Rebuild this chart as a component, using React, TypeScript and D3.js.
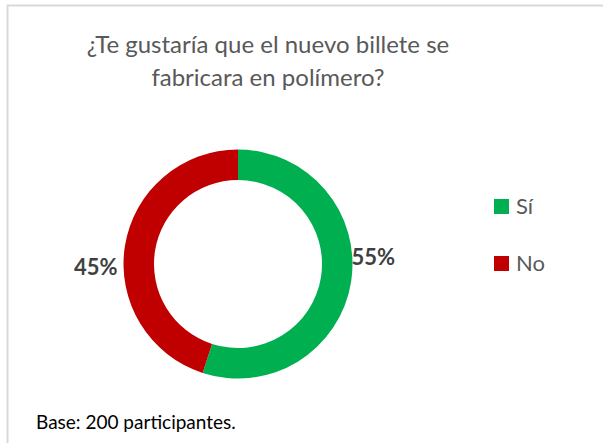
import React, { useEffect, useRef } from "react";
import * as d3 from "d3";

const categories = ["Sí", "No"];
const values = [55, 45];
const colors = ["#00B050", "#C00000"];
const titleLines = ["¿Te gustaría que el nuevo billete se", "fabricara en polímero?"];
const footer = "Base: 200 participantes.";

const W = 603;
const H = 443;

export default function App() {
  const ref = useRef<SVGSVGElement | null>(null);

  useEffect(() => {
    const svg = d3.select(ref.current);
    svg.selectAll("*").remove();

    svg.append("rect").attr("width", W).attr("height", H).attr("fill", "#fff");
    // frame
    svg.append("path")
      .attr("d", `M7.5,${H} L7.5,5.5 L${W},5.5`)
      .attr("fill", "none")
      .attr("stroke", "#D9D9D9")
      .attr("stroke-width", 2);

    const font = "Lato, 'Open Sans', sans-serif";

    // title
    svg.append("g").selectAll("text").data(titleLines).join("text")
      .attr("x", 268)
      .attr("y", (_, i) => 53 + i * 33)
      .attr("text-anchor", "middle")
      .attr("font-family", font)
      .attr("font-size", 24)
      .attr("fill", "#595959")
      .text(d => d);

    const cx = 238, cy = 264, outerR = 114.5, innerR = 84;
    const pie = d3.pie<number>().sort(null).startAngle(0).endAngle(2 * Math.PI);
    const arcs = pie(values);
    const arc = d3.arc<d3.PieArcDatum<number>>().innerRadius(innerR).outerRadius(outerR);

    const g = svg.append("g").attr("transform", `translate(${cx},${cy})`);
    g.selectAll("path").data(arcs).join("path")
      .attr("d", arc)
      .attr("fill", (_, i) => colors[i]);

    // data labels
    const fmt = (v: number) => `${v}%`;
    g.selectAll("text.lbl").data(arcs).join("text")
      .attr("class", "lbl")
      .attr("x", (d, i) => (i === 0 ? outerR - 1 : -outerR - 6))
      .attr("y", (d, i) => (i === 0 ? 1 : 11))
      .attr("text-anchor", (d, i) => (i === 0 ? "start" : "end"))
      .attr("font-family", font)
      .attr("font-weight", 700)
      .attr("font-size", 22)
      .attr("fill", "#404040")
      .text(d => fmt(d.data));

    // legend
    const lg = svg.append("g").attr("transform", "translate(494,199)");
    const items = lg.selectAll("g").data(categories).join("g")
      .attr("transform", (_, i) => `translate(0,${i * 57})`);
    items.append("rect").attr("width", 15).attr("height", 15).attr("fill", (_, i) => colors[i]);
    items.append("text")
      .attr("x", 22)
      .attr("y", 15)
      .attr("font-family", font)
      .attr("font-size", 22)
      .attr("fill", "#595959")
      .text(d => d);

    // footer
    svg.append("text")
      .attr("x", 36)
      .attr("y", 429)
      .attr("font-family", font)
      .attr("font-size", 19)
      .attr("fill", "#000")
      .text(footer);
  }, []);

  return (
    <svg
      ref={ref}
      width={W}
      height={H}
      style={{ position: "absolute", left: 0, top: 0, display: "block" }}
    />
  );
}
